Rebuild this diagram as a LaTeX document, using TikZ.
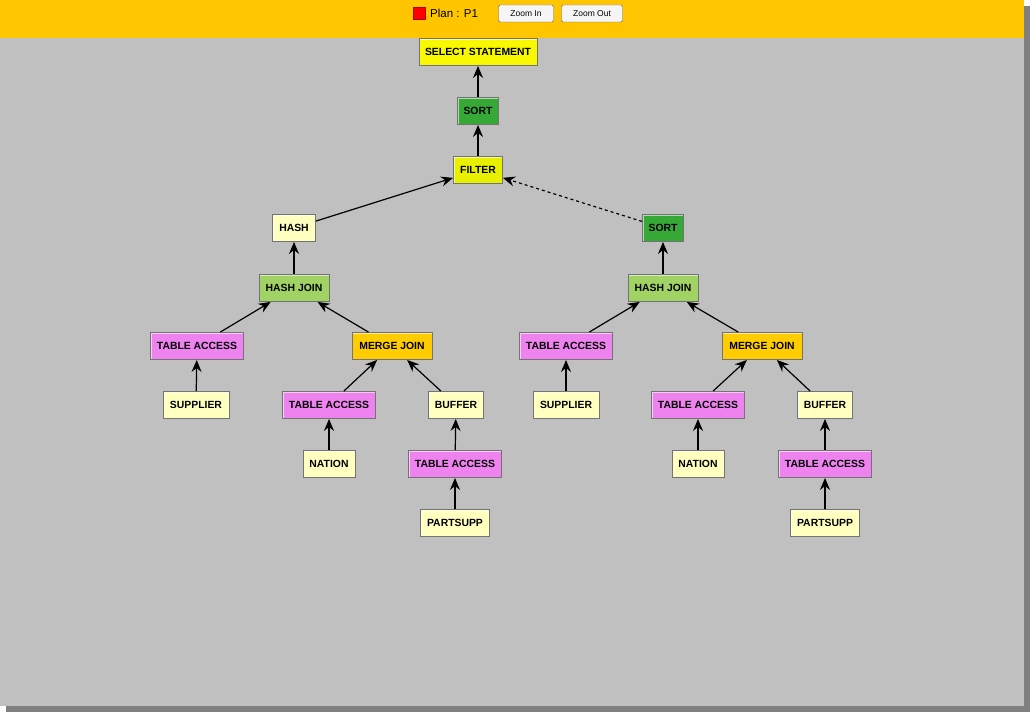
\documentclass[tikz,border=0pt]{standalone}
\usepackage{fontspec}
\setmainfont{Liberation Sans}
\usepackage{tikz}
\usetikzlibrary{arrows.meta}
\definecolor{header}{HTML}{FFC600}
\definecolor{panel}{HTML}{C0C0C0}
\definecolor{selectc}{HTML}{F8F800}
\definecolor{sortc}{HTML}{36A836}
\definecolor{filterc}{HTML}{E8F000}
\definecolor{paleyellow}{HTML}{FFFFC0}
\definecolor{hashjoinc}{HTML}{A0D264}
\definecolor{tablec}{HTML}{EE82EE}
\definecolor{mergec}{HTML}{FFCC00}
\tikzset{
    op/.style={rectangle, draw=black!55, line width=0.9pt, minimum height=27pt, inner sep=2pt, font=\fontsize{10.4}{12}\selectfont\bfseries,
        path picture={\draw[white, opacity=0.6, line width=2.4pt] (path picture bounding box.south west) -- (path picture bounding box.north west) -- (path picture bounding box.north east);}},
    selectop/.style={op, fill=selectc, minimum width=118pt},
    sortop/.style={op, fill=sortc, minimum width=41pt},
    filterop/.style={op, fill=filterc, minimum width=49pt},
    hashop/.style={op, fill=paleyellow, minimum width=43pt},
    hashjoinop/.style={op, fill=hashjoinc, minimum width=70pt},
    tableop/.style={op, fill=tablec, minimum width=93pt},
    mergeop/.style={op, fill=mergec, minimum width=80pt},
    leafop/.style={op, fill=paleyellow},
    button/.style={rectangle, draw=black!60, fill=black!4, rounded corners=1.5pt, minimum height=17pt, font=\fontsize{8.5}{10}\selectfont},
    arrow/.style={-{Stealth[length=12pt, width=10pt, inset=4pt]}, line width=1.2pt, black},
    subarrow/.style={arrow, dashed}
}
\begin{document}
\begin{tikzpicture}[x=1pt, y=-1pt]
    \useasboundingbox (0,0) rectangle (1036,719);
    \fill[white] (0,0) rectangle (1036,719);
    % panel with shadow
    \fill[black!50] (6,6) rectangle (1030,712);
    \fill[panel] (0,0) rectangle (1024,706);
    \fill[header] (0,0) rectangle (1024,38);
    % header bar
    \node[rectangle, fill=red, draw=red!70!black, minimum size=12pt, inner sep=0pt] (mark) at (419,13) {};
    \node[anchor=west, font=\fontsize{11.5}{13}\selectfont, inner sep=0pt] (plan) at (430,13) {Plan : P1};
    \node[button, minimum width=55pt] (zin) at (526,13.5) {Zoom In};
    \node[button, minimum width=61pt] (zout) at (592,13.5) {Zoom Out};

    % plan tree
    \node[selectop] (select) at (478,52) {SELECT STATEMENT};
    \node[sortop] (sort) at (478,111) {SORT};
    \node[filterop] (filter) at (478,170) {FILTER};
    \node[hashop] (hash) at (294,228) {HASH};
    \node[sortop] (sortr) at (663,228) {SORT};
    \node[hashjoinop] (hjl) at (294,288) {HASH JOIN};
    \node[hashjoinop] (hjr) at (663,288) {HASH JOIN};
    \node[tableop] (tal) at (197,346) {TABLE ACCESS};
    \node[mergeop] (mjl) at (392,346) {MERGE JOIN};
    \node[tableop] (tar) at (566,346) {TABLE ACCESS};
    \node[mergeop] (mjr) at (762,346) {MERGE JOIN};
    \node[leafop, minimum width=66pt] (supl) at (196,405) {SUPPLIER};
    \node[tableop] (tanl) at (329,405) {TABLE ACCESS};
    \node[leafop, minimum width=55pt] (bufl) at (456,405) {BUFFER};
    \node[leafop, minimum width=66pt] (supr) at (566,405) {SUPPLIER};
    \node[tableop] (tanr) at (698,405) {TABLE ACCESS};
    \node[leafop, minimum width=55pt] (bufr) at (825,405) {BUFFER};
    \node[leafop, minimum width=52pt] (natl) at (329,464) {NATION};
    \node[tableop] (tapl) at (455,464) {TABLE ACCESS};
    \node[leafop, minimum width=52pt] (natr) at (698,464) {NATION};
    \node[tableop] (tapr) at (825,464) {TABLE ACCESS};
    \node[leafop, minimum width=69pt] (psl) at (455,523) {PARTSUPP};
    \node[leafop, minimum width=69pt] (psr) at (825,523) {PARTSUPP};

    \draw[arrow] (sort) -- (select);
    \draw[arrow] (filter) -- (sort);
    \draw[arrow] (hash) -- (filter);
    \draw[subarrow] (sortr) -- (filter);
    \draw[arrow] (hjl) -- (hash);
    \draw[arrow] (hjr) -- (sortr);
    \draw[arrow] (tal) -- (hjl);
    \draw[arrow] (mjl) -- (hjl);
    \draw[arrow] (tar) -- (hjr);
    \draw[arrow] (mjr) -- (hjr);
    \draw[arrow] (supl) -- (tal);
    \draw[arrow] (tanl) -- (mjl);
    \draw[arrow] (bufl) -- (mjl);
    \draw[arrow] (supr) -- (tar);
    \draw[arrow] (tanr) -- (mjr);
    \draw[arrow] (bufr) -- (mjr);
    \draw[arrow] (natl) -- (tanl);
    \draw[arrow] (tapl) -- (bufl);
    \draw[arrow] (natr) -- (tanr);
    \draw[arrow] (tapr) -- (bufr);
    \draw[arrow] (psl) -- (tapl);
    \draw[arrow] (psr) -- (tapr);
\end{tikzpicture}
\end{document}
